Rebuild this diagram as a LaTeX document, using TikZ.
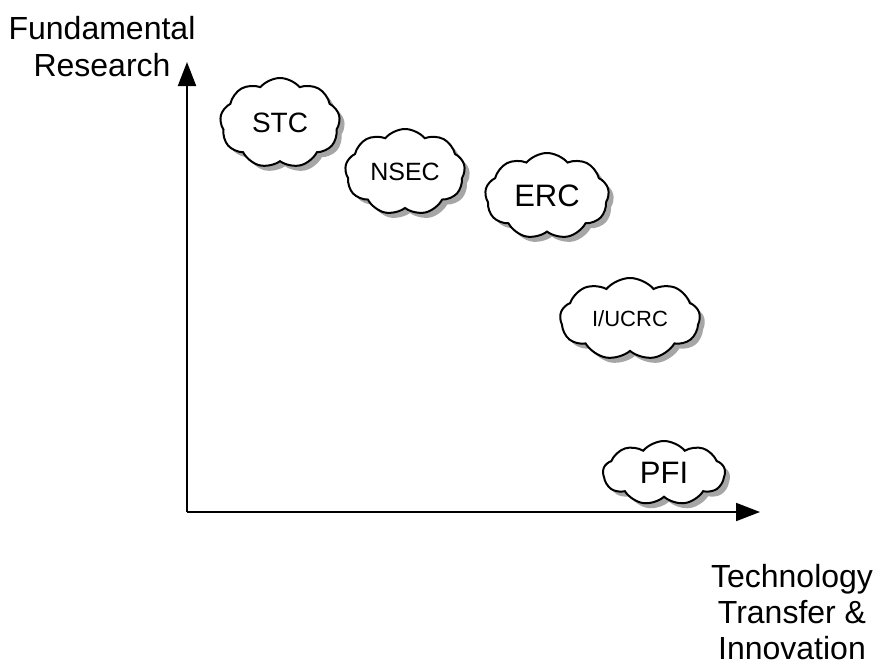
\documentclass[tikz,border=0pt]{standalone}
\usepackage{fontspec}
\setmainfont{Liberation Sans}
\usetikzlibrary{shapes.symbols,shadows,arrows.meta}

\tikzset{
    puff/.style={cloud, cloud puffs=9, cloud puff arc=100, cloud ignores aspect, draw=black, line width=1pt,
        fill=white, inner sep=0pt,
        drop shadow={shadow xshift=2.5pt, shadow yshift=-2.5pt, opacity=0.35, fill=black}},
    axis/.style={line width=1pt, -{Triangle[length=12pt,width=9pt]}}
}

\begin{document}
\begin{tikzpicture}[x=0.5pt,y=-0.5pt]
    \useasboundingbox (0,0) rectangle (877,664);
    \coordinate (O) at (187,512);
    \coordinate (Ytip) at (187,62);
    \coordinate (Xtip) at (760,512);
    \draw [axis] (O)--(Ytip);
    \draw [axis] (O)--(Xtip);
    \node [align=center, font=\fontsize{16}{18.5}\selectfont] (FR) at (102,47) {Fundamental\\Research};
    \node [align=center, font=\fontsize{16}{18}\selectfont] (TTI) at (792,612) {Technology\\Transfer \&\\Innovation};
    \node [puff, minimum width=60pt, minimum height=45pt, font=\fontsize{14}{14}\selectfont] (STC) at (280,123) {STC};
    \node [puff, minimum width=60pt, minimum height=43pt, font=\fontsize{12.5}{12.5}\selectfont] (NSEC) at (405,172) {NSEC};
    \node [puff, minimum width=62pt, minimum height=43pt, font=\fontsize{15.5}{15.5}\selectfont] (ERC) at (547,196) {ERC};
    \node [puff, minimum width=70pt, minimum height=41pt, font=\fontsize{11}{11}\selectfont] (IUCRC) at (630,319) {I/UCRC};
    \node [puff, minimum width=61pt, minimum height=32pt, font=\fontsize{15.5}{15.5}\selectfont] (PFI) at (664,473) {PFI};
\end{tikzpicture}
\end{document}
